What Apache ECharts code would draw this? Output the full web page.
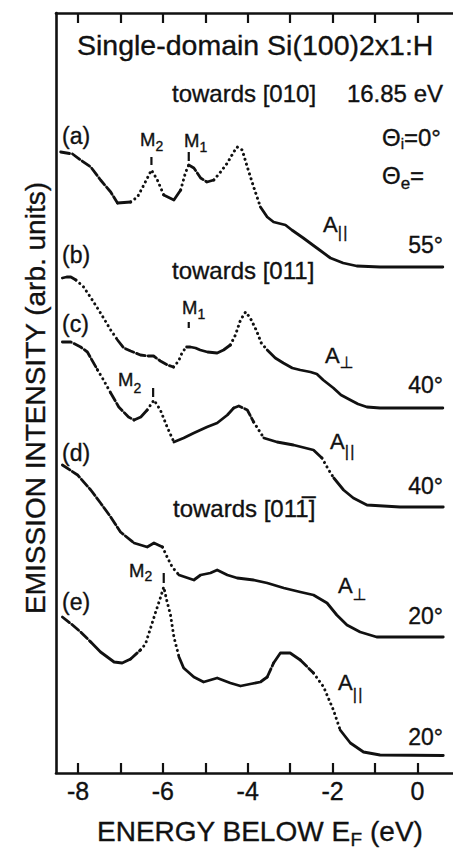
<!DOCTYPE html>
<html><head><meta charset="utf-8">
<script src="https://cdn.jsdelivr.net/npm/echarts@6/dist/echarts.min.js"></script>
<style>html,body{margin:0;padding:0;background:#fff}#c{width:453px;height:848px}</style>
</head><body><div id="c"></div>
<script>
// ---- data (energy below EF in eV, emission intensity in arb. units, curves stacked) ----
const energyTicks = [-8, -7, -6, -5, -4, -3, -2, -1, 0];
const energyLabels = [-8, -6, -4, -2, 0];

const curveA = [[-8.41,62.1],[-8.13,61.9],[-7.94,61.3],[-7.70,60.6],[-7.47,59.3],[-7.23,58.1],[-7.07,57.0],[-6.76,57.1],[-6.60,57.6],[-6.45,58.8],[-6.27,60.3],[-6.13,59.3],[-5.98,57.8],[-5.74,57.3],[-5.58,58.3],[-5.47,60.0],[-5.39,60.8],[-5.27,60.5],[-5.11,59.5],[-4.96,59.1],[-4.80,59.3],[-4.64,60.1],[-4.48,61.0],[-4.33,62.1],[-4.25,62.6],[-4.13,62.3],[-4.01,60.6],[-3.86,58.6],[-3.70,56.6],[-3.54,55.6],[-3.39,55.1],[-3.11,54.8],[-2.96,54.3],[-2.69,53.5],[-2.37,52.5],[-2.05,51.5],[-1.75,51.0],[-1.43,50.7],[-0.88,50.6],[0.60,50.6]];
const curveB = [[-8.37,49.5],[-8.27,49.6],[-8.17,49.6],[-8.05,49.3],[-7.87,48.6],[-7.71,47.6],[-7.47,46.0],[-7.23,44.3],[-7.07,43.3],[-6.92,42.5],[-6.76,42.2],[-6.53,41.8],[-6.36,41.7],[-6.22,41.7],[-6.06,41.2],[-5.89,40.8],[-5.75,40.6],[-5.63,41.2],[-5.54,42.1],[-5.44,42.6],[-5.35,42.6],[-5.23,42.5],[-5.12,42.3],[-4.95,42.1],[-4.72,42.0],[-4.57,42.3],[-4.41,42.8],[-4.29,43.8],[-4.17,45.3],[-4.05,46.1],[-3.94,45.5],[-3.80,44.3],[-3.68,43.0],[-3.54,42.3],[-3.35,41.5],[-3.16,41.0],[-2.95,40.5],[-2.76,40.3],[-2.52,40.1],[-2.37,39.9],[-2.22,39.3],[-1.98,38.5],[-1.80,37.8],[-1.58,37.3],[-1.40,36.9],[-1.19,36.6],[-0.88,36.5],[0.60,36.5]];
const curveC = [[-8.37,43.1],[-8.17,43.1],[-7.94,42.6],[-7.78,42.1],[-7.54,40.3],[-7.40,39.3],[-7.23,38.0],[-7.04,36.6],[-6.81,35.6],[-6.68,35.3],[-6.52,35.6],[-6.37,36.3],[-6.21,37.3],[-6.06,36.3],[-5.90,34.6],[-5.74,33.1],[-5.51,33.5],[-5.27,34.0],[-4.96,34.6],[-4.72,35.0],[-4.48,35.8],[-4.33,36.5],[-4.21,36.7],[-4.01,36.3],[-3.86,35.1],[-3.62,33.5],[-3.31,33.1],[-2.92,32.8],[-2.45,32.3],[-2.25,31.5],[-2.09,30.3],[-1.97,29.5],[-1.74,28.3],[-1.51,27.5],[-1.19,26.8],[-0.41,26.6],[0.61,26.6]];
const curveD = [[-8.37,30.8],[-8.01,29.8],[-7.70,28.3],[-7.47,27.0],[-7.23,25.6],[-7.00,24.1],[-6.68,23.0],[-6.37,22.6],[-6.21,23.0],[-6.01,22.6],[-5.90,21.6],[-5.78,20.6],[-5.62,19.8],[-5.27,19.3],[-5.11,19.8],[-4.88,20.0],[-4.72,20.3],[-4.48,19.8],[-4.25,19.5],[-3.86,19.3],[-3.54,19.0],[-3.15,18.5],[-2.76,18.1],[-2.45,17.8],[-2.13,17.0],[-1.90,15.8],[-1.66,14.8],[-1.35,14.1],[-0.96,13.6],[-0.41,13.6],[0.61,13.6]];
const curveE = [[-8.37,15.6],[-8.13,14.8],[-7.94,14.1],[-7.70,13.1],[-7.47,12.1],[-7.15,11.1],[-6.96,11.0],[-6.76,11.4],[-6.53,12.3],[-6.41,12.9],[-6.29,14.5],[-6.17,16.1],[-6.06,17.5],[-5.98,18.6],[-5.90,17.1],[-5.82,15.8],[-5.74,13.6],[-5.62,11.6],[-5.51,10.5],[-5.27,9.6],[-5.04,9.1],[-4.72,9.5],[-4.41,9.0],[-4.17,8.7],[-3.94,8.9],[-3.70,9.1],[-3.54,9.6],[-3.39,11.0],[-3.23,12.0],[-3.00,12.0],[-2.76,11.3],[-2.45,10.0],[-2.21,8.6],[-1.98,6.3],[-1.82,4.3],[-1.58,3.0],[-1.27,2.1],[-0.88,1.8],[0.61,1.75]];

// peak markers: [energy, top, bottom]
const peakMarks = [[-6.27,61.6,60.8],[-5.39,62.1,61.2],[-5.39,45.1,44.5],[-6.23,38.5,37.6],[-5.98,20.0,19.0]];

// line style runs along each trace (energy ranges)
const runsA = [[-8.41,-7.07,'dashed'],[-7.07,-6.76,'solid'],[-6.76,-5.98,'dotted'],[-5.98,-5.58,'solid'],[-5.58,-5.39,'dotted'],[-5.39,-4.80,'dashed'],[-4.80,-3.70,'dotted'],[-3.70,0.60,'solid']];
const runsB = [[-8.37,-8.05,'solid'],[-8.05,-7.07,'dotted'],[-7.07,-5.75,'dashed'],[-5.75,-5.44,'dotted'],[-5.44,-4.41,'solid'],[-4.41,-3.54,'dotted'],[-3.54,0.60,'solid']];
const runsC = [[-8.37,-7.54,'dashed'],[-7.54,-7.23,'dotted'],[-7.23,-6.68,'dashed'],[-6.68,-6.37,'solid'],[-6.37,-5.74,'dotted'],[-5.74,-4.33,'solid'],[-4.33,-3.86,'dashed'],[-3.86,-3.62,'dotted'],[-3.62,-2.25,'solid'],[-2.25,-1.97,'dotted'],[-1.97,0.61,'solid']];
const runsD = [[-8.37,-6.68,'dashed'],[-6.68,-6.01,'solid'],[-6.01,-5.62,'dotted'],[-5.62,0.61,'solid']];
const runsE = [[-8.37,-7.70,'dashed'],[-7.70,-6.76,'solid'],[-6.76,-6.53,'dashed'],[-6.53,-5.62,'dotted'],[-5.62,-3.54,'solid'],[-3.54,-3.39,'dashed'],[-3.39,-2.76,'solid'],[-2.76,-2.45,'dashed'],[-2.45,-1.82,'dotted'],[-1.82,0.61,'solid']];

// ---- rendering ----
const INK = '#111';
const FONT = '"Liberation Sans", Arial, "DejaVu Sans", sans-serif';
const DASH = { solid: 'solid', dashed: [9, 3], dotted: [0.1, 5] };

function traceSeries(curve, runs) {
  return runs.map(([a, b, t]) => ({
    type: 'line', silent: true, symbol: 'none', showSymbol: false, animation: false,
    data: curve.filter(p => p[0] >= a - 1e-6 && p[0] <= b + 1e-6),
    lineStyle: { color: INK, width: t === 'dotted' ? 3 : 2.8, type: DASH[t], cap: 'round', join: 'round' }
  }));
}
let series = [];
[[curveA, runsA], [curveB, runsB], [curveC, runsC], [curveD, runsD], [curveE, runsE]].forEach(([c, r]) => {
  series = series.concat(traceSeries(c, r));
});
peakMarks.forEach(([e, y1, y2]) => {
  series.push({ type: 'line', silent: true, symbol: 'none', animation: false,
    data: [[e, y1], [e, y2]], lineStyle: { color: INK, width: 2.2 } });
});

const mctx = document.createElement('canvas').getContext('2d');
function tw(text, size) { mctx.font = size + 'px ' + FONT; return mctx.measureText(text).width; }
function T(x, y, text, size, align) {
  return { type: 'text', x: x, y: y, silent: true,
    style: { text: text, fontSize: size, fontFamily: FONT, fill: INK, stroke: INK, lineWidth: 0.35,
      textAlign: align || 'left', textVerticalAlign: 'middle' } };
}
// run of pieces: [text, size, dy]
function R(x, y, parts) {
  const out = [];
  parts.forEach(([t, s, dy]) => { out.push(T(x, y + (dy || 0), t, s)); x += tw(t, s); });
  return out;
}
const PAR = '|\u200A|';

let g = [];
g.push(T(77, 45, 'Single-domain Si(100)2x1:H', 28.5));
g.push(T(172, 93, 'towards [010]', 24));
g.push(T(443, 93, '16.85 eV', 24, 'right'));
g.push(T(62, 136, '(a)', 23));
g = g.concat(R(140, 139, [['M', 18.5], ['2', 14, 7]]));
g = g.concat(R(184, 140, [['M', 18.5], ['1', 14, 7]]));
g = g.concat(R(382, 137, [['Θ', 24], ['i', 15, 6], ['=0°', 24]]));
g = g.concat(R(382, 175, [['Θ', 24], ['e', 17, 8], ['=', 24]]));
g = g.concat(R(323, 224, [['A', 22], [PAR, 16, 8]]));
g.push(T(443, 245, '55°', 23, 'right'));
g.push(T(62, 255, '(b)', 23));
g.push(T(172, 270, 'towards [011]', 24));
g = g.concat(R(182, 307, [['M', 18.5], ['1', 14, 7]]));
g.push(T(62, 324, '(c)', 23));
g = g.concat(R(325, 355, [['A', 22], ['⊥', 16, 7]]));
g.push(T(443, 385, '40°', 23, 'right'));
g = g.concat(R(118, 379, [['M', 18.5], ['2', 14, 9]]));
g = g.concat(R(330, 441, [['A', 22], [PAR, 16, 10]]));
g.push(T(62, 453, '(d)', 23));
g.push(T(443, 486, '40°', 23, 'right'));
g.push(T(173, 508, 'towards [011\u0305]', 24));
g = g.concat(R(129, 570, [['M', 18.5], ['2', 14, 6]]));
g = g.concat(R(338, 585, [['A', 22], ['⊥', 16, 9]]));
g.push(T(62, 602, '(e)', 23));
g.push(T(443, 616, '20°', 23, 'right'));
g = g.concat(R(338, 682, [['A', 22], [PAR, 16, 12]]));
g.push(T(443, 737, '20°', 23, 'right'));
g = g.concat(R(97, 831, [['ENERGY BELOW E', 28], ['F', 19, 8], [' (eV)', 28]]));
g.push({ type: 'text', x: 35, y: 398, rotation: Math.PI / 2, silent: true,
  style: { text: 'EMISSION INTENSITY (arb. units)', fontSize: 28, fontFamily: FONT, fill: INK, stroke: INK, lineWidth: 0.35,
    textAlign: 'center', textVerticalAlign: 'middle' } });

const axisBase = {
  type: 'value', min: -8.52, max: 0.84,
  axisLine: { show: true, onZero: false, lineStyle: { color: INK, width: 2.6 } },
  axisTick: { show: true, inside: true, length: 10, customValues: energyTicks, lineStyle: { color: INK, width: 2.2 } },
  splitLine: { show: false }
};
const option = {
  animation: false,
  backgroundColor: '#fff',
  grid: { left: 56, right: 0, top: 13, bottom: 75 },
  xAxis: [
    Object.assign({}, axisBase, { position: 'bottom',
      axisLabel: { show: true, customValues: energyLabels, fontSize: 25, color: INK, fontFamily: FONT, margin: 5,
        textBorderColor: INK, textBorderWidth: 0.35 } }),
    Object.assign({}, axisBase, { position: 'top', axisLabel: { show: false } })
  ],
  yAxis: { type: 'value', min: 0, max: 76,
    axisLine: { show: true, onZero: false, lineStyle: { color: INK, width: 2.6 } },
    axisTick: { show: false }, axisLabel: { show: false }, splitLine: { show: false } },
  series: series,
  graphic: g
};
const chart = echarts.init(document.getElementById('c'), null, { renderer: 'svg' });
chart.setOption(option);
</script></body></html>
